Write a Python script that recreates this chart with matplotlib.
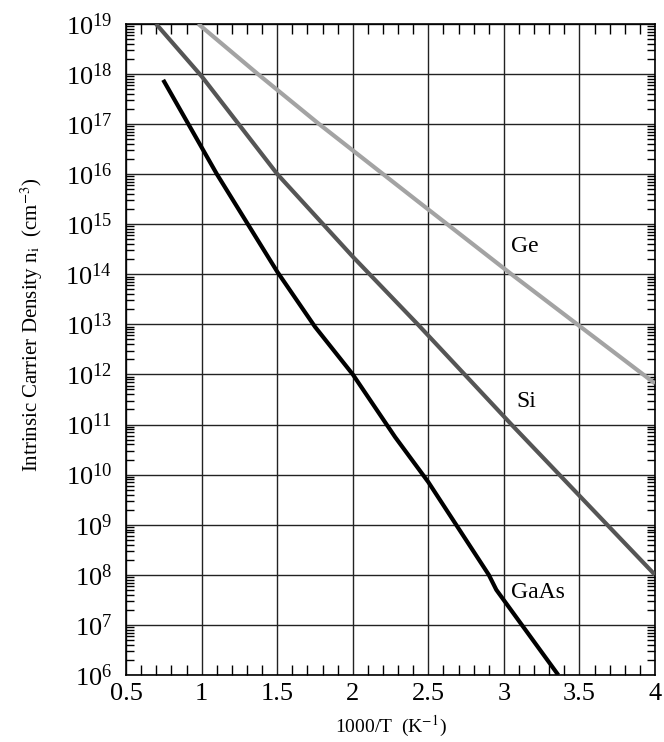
import numpy as np
import matplotlib
matplotlib.use("Agg")
import matplotlib.pyplot as plt
from matplotlib.ticker import LogLocator, MultipleLocator, FixedLocator, LogFormatterMathtext

plt.rcParams['font.family'] = ['Liberation Serif', 'DejaVu Serif']
plt.rcParams['mathtext.fontset'] = 'stix'

# 1000/T (1/K) and log10(ni)
ge_x = [0.976, 1.37, 1.776, 2.42, 3.05, 4.0]
ge_logn = [19.0, 18.0, 17.0, 15.48, 14.0, 11.82]

si_x = [0.697, 1.0, 1.5, 2.0, 2.43, 3.05, 4.0]
si_logn = [19.0, 17.95, 16.0, 14.35, 13.0, 11.0, 8.0]

gaas_x = [0.745, 1.1, 1.5, 1.75, 2.0, 2.28, 2.5, 2.9, 2.95, 3.36]
gaas_logn = [17.88, 16.0, 14.05, 12.95, 12.0, 10.75, 9.85, 8.0, 7.7, 6.0]

labels = ['Ge', 'Si', 'GaAs']
label_x = [3.05, 3.08, 3.05]
label_logn = [14.56, 11.45, 7.64]

fig = plt.figure(figsize=(6.64, 7.42), dpi=100)
ax = fig.add_axes([0.19, 0.0903, 0.7964, 0.8777])

ax.plot(ge_x, 10 ** np.array(ge_logn), color='#a3a3a3', lw=3.0, solid_capstyle='butt', zorder=3)
ax.plot(si_x, 10 ** np.array(si_logn), color='#555555', lw=3.0, solid_capstyle='butt', zorder=3)
ax.plot(gaas_x, 10 ** np.array(gaas_logn), color='black', lw=3.0, solid_capstyle='butt', zorder=3)

for t, x, y in zip(labels, label_x, label_logn):
    ax.text(x, 10 ** y, t, fontsize=17, va='center', ha='left', zorder=4)

ax.set_yscale('log')
ax.set_xlim(0.5, 4)
ax.set_ylim(1e6, 1e19)

ax.xaxis.set_major_locator(MultipleLocator(0.5))
ax.xaxis.set_minor_locator(MultipleLocator(0.1))
ax.yaxis.set_major_locator(FixedLocator([10.0 ** k for k in range(6, 20)]))
ax.yaxis.set_minor_locator(LogLocator(base=10, subs=np.arange(2, 10), numticks=30))
ax.yaxis.set_major_formatter(LogFormatterMathtext())
ax.xaxis.set_major_formatter(plt.FuncFormatter(lambda v, p: f"{v:g}"))

ax.grid(True, which='major', color='#222222', lw=1.0)
ax.tick_params(which='both', direction='in', top=True, right=True, color='black')
ax.tick_params(which='major', length=0)
ax.tick_params(axis='x', which='minor', length=7, width=1.0)
ax.tick_params(axis='y', which='minor', length=6, width=1.0)
ax.tick_params(axis='x', which='major', labelsize=19, pad=6)
ax.tick_params(axis='y', which='major', labelsize=19, pad=10)
for s in ax.spines.values():
    s.set_linewidth(1.2)

ax.set_xlabel('1000/T  (K$^{-1}$)', fontsize=14, labelpad=6)
ax.set_ylabel('Intrinsic Carrier Density n$_{\\mathrm{i}}$  (cm$^{-3}$)', fontsize=15)
ax.yaxis.set_label_coords(-0.153, 0.537)

fig.savefig('out.png', dpi=100)
